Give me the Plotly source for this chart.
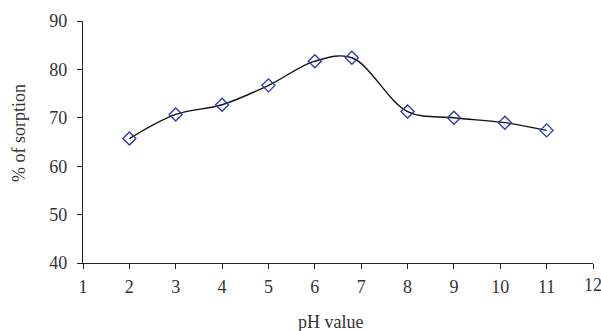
import plotly.graph_objects as go

ph = [2, 3, 4, 5, 6, 6.8, 8, 9, 10.1, 11]
sorption = [65.7, 70.7, 72.7, 76.7, 81.7, 82.4, 71.3, 70.0, 69.0, 67.4]
x_ticks = list(range(1, 13))
y_ticks = [40, 50, 60, 70, 80, 90]

font_family = "Liberation Serif"
text_color = "#333333"
fs = 18

W, H = 601, 331
ML, MR, MT, MB = 83, 8, 21, 68

fig = go.Figure()
fig.add_trace(go.Scatter(
    x=ph, y=sorption, mode="lines+markers",
    line=dict(color="#111111", width=1.4, shape="spline", smoothing=1.0),
    marker=dict(symbol="diamond-open", size=10, color="#2b3ea8", line=dict(width=1.4, color="#2b3ea8")),
    showlegend=False, cliponaxis=False,
))

axis_common = dict(
    showline=True, linecolor="#222222", linewidth=1.3,
    ticks="outside", ticklen=5, tickwidth=1.3, tickcolor="#222222",
    showgrid=False, zeroline=False, automargin=False,
    tickfont=dict(family=font_family, size=fs, color=text_color),
)

# last x tick label overflows the page edge (as in the reference), so it is drawn as an annotation
x_ticktext = [str(v) for v in x_ticks[:-1]] + [""]

fig.update_xaxes(range=[1, 12], tickvals=x_ticks, ticktext=x_ticktext,
                 ticklabelstandoff=2, **axis_common)
fig.update_yaxes(range=[40, 90], tickvals=y_ticks, ticktext=[str(v) for v in y_ticks],
                 ticklabelstandoff=6, **axis_common)

plot_w = W - ML - MR
plot_h = H - MT - MB

fig.add_annotation(
    text=str(x_ticks[-1]), xref="x", yref="paper",
    x=x_ticks[-1], y=-(285 - (H - MB)) / plot_h,
    xanchor="center", yanchor="middle", showarrow=False,
    font=dict(family=font_family, size=fs, color=text_color),
)
fig.add_annotation(
    text="pH value", xref="paper", yref="paper",
    x=(330 - ML) / plot_w, y=-(322 - (H - MB)) / plot_h,
    xanchor="center", yanchor="middle", showarrow=False,
    font=dict(family=font_family, size=fs, color=text_color),
)
fig.add_annotation(
    text="% of sorption", xref="paper", yref="paper",
    x=-(ML - 19) / plot_w, y=((H - MB) - 133) / plot_h,
    xanchor="center", yanchor="middle", showarrow=False, textangle=-90,
    font=dict(family=font_family, size=fs, color=text_color),
)

fig.update_layout(
    width=W, height=H,
    margin=dict(l=ML, r=MR, t=MT, b=MB),
    plot_bgcolor="white", paper_bgcolor="white",
)

fig.write_html("out.html", config={"displayModeBar": False},
               post_script="document.body.style.margin='0';")
